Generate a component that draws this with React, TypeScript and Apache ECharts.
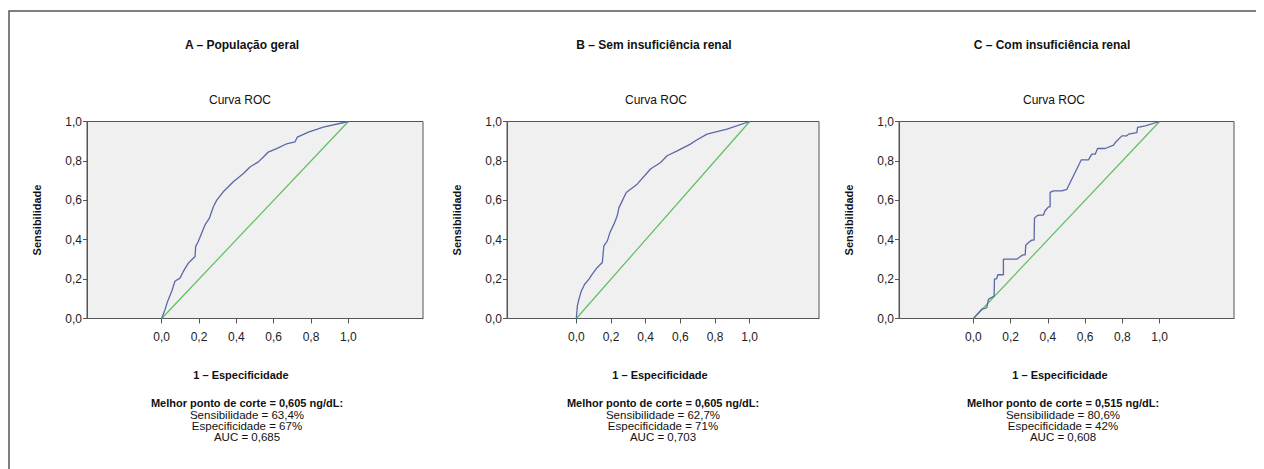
import React, { useEffect, useRef } from "react";
import * as echarts from "echarts";

const panelTitles = ["A – População geral", "B – Sem insuficiência renal", "C – Com insuficiência renal"];
const cutoffLines = [
  "Melhor ponto de corte = 0,605 ng/dL:",
  "Melhor ponto de corte = 0,605 ng/dL:",
  "Melhor ponto de corte = 0,515 ng/dL:",
];
const sensLines = ["Sensibilidade = 63,4%", "Sensibilidade = 62,7%", "Sensibilidade = 80,6%"];
const specLines = ["Especificidade = 67%", "Especificidade = 71%", "Especificidade = 42%"];
const aucLines = ["AUC = 0,685", "AUC = 0,703", "AUC = 0,608"];
const xTicks = [0, 0.2, 0.4, 0.6, 0.8, 1.0];

const rocA = [
  [0, 0], [0.018, 0.045], [0.03, 0.082], [0.054, 0.138], [0.071, 0.189], [0.098, 0.205],
  [0.116, 0.239], [0.143, 0.281], [0.161, 0.298], [0.179, 0.315], [0.182, 0.365], [0.196, 0.391],
  [0.214, 0.433], [0.232, 0.475], [0.255, 0.508], [0.277, 0.567], [0.295, 0.601], [0.33, 0.643],
  [0.384, 0.694], [0.438, 0.736], [0.473, 0.769], [0.518, 0.795], [0.545, 0.82], [0.571, 0.845],
  [0.616, 0.862], [0.67, 0.887], [0.714, 0.896], [0.727, 0.921], [0.786, 0.946], [0.866, 0.971], [1, 1],
];
const rocB = [
  [0, 0], [0.006, 0.064], [0.015, 0.098], [0.029, 0.14], [0.048, 0.174], [0.073, 0.2],
  [0.092, 0.225], [0.121, 0.259], [0.15, 0.284], [0.155, 0.335], [0.159, 0.369], [0.179, 0.394],
  [0.194, 0.437], [0.217, 0.479], [0.236, 0.521], [0.246, 0.563], [0.265, 0.597], [0.288, 0.64],
  [0.351, 0.682], [0.428, 0.759], [0.486, 0.792], [0.524, 0.826], [0.582, 0.851], [0.658, 0.885],
  [0.687, 0.902], [0.754, 0.936], [0.869, 0.961], [1, 1],
];
const rocC = [
  [0, 0], [0.045, 0.047], [0.063, 0.051], [0.072, 0.056], [0.081, 0.098], [0.099, 0.107],
  [0.111, 0.115], [0.113, 0.2], [0.125, 0.203], [0.131, 0.222], [0.161, 0.222], [0.161, 0.301],
  [0.233, 0.301], [0.251, 0.313], [0.265, 0.323], [0.278, 0.323], [0.281, 0.372], [0.296, 0.386],
  [0.314, 0.398], [0.326, 0.398], [0.328, 0.509], [0.341, 0.521], [0.353, 0.525], [0.376, 0.525],
  [0.385, 0.547], [0.403, 0.567], [0.412, 0.567], [0.412, 0.64], [0.43, 0.648], [0.475, 0.648],
  [0.502, 0.656], [0.579, 0.805], [0.618, 0.805], [0.636, 0.834], [0.654, 0.834], [0.667, 0.863],
  [0.708, 0.863], [0.753, 0.88], [0.762, 0.893], [0.798, 0.927], [0.824, 0.927], [0.833, 0.936],
  [0.878, 0.944], [0.882, 0.97], [0.923, 0.978], [1, 1],
];
const diagonal = [[0, 0], [1, 1]];
const rocData = [rocA, rocB, rocC];

const FONT = "'Liberation Sans Narrow', 'Liberation Sans', Arial, sans-serif";

export default function App() {
  const ref = useRef<HTMLDivElement>(null);
  useEffect(() => {
    if (!ref.current) return;
    const chart = echarts.init(ref.current, null, { renderer: "svg" });
    const grids = [
      { left: 79, top: 113.5, width: 336, height: 197 },
      { left: 499, top: 113.5, width: 312, height: 197 },
      { left: 891, top: 113.5, width: 335, height: 197 },
    ];
    const titleX = [234, 646, 1044];
    const curvaX = [232, 648, 1046];
    const xNameX = [233, 652, 1052];
    const statsX = [239, 655, 1055];
    const fmt = (v: number) => v.toFixed(1).replace(".", ",");
    const graphics: any[] = [
      {
        type: "rect",
        shape: { x: 1, y: 3, width: 1254, height: 500 },
        style: { fill: "none", stroke: "#555", lineWidth: 1.5 },
        silent: true,
      },
    ];
    const mkText = (x: number, y: number, text: string, bold: boolean, size: number) => ({
      type: "text",
      x,
      y,
      style: {
        text,
        fill: "#111",
        font: `${bold ? "bold " : ""}${size}px ${FONT}`,
        textAlign: "center",
        textVerticalAlign: "middle",
      },
    });
    for (let i = 0; i < 3; i++) {
      graphics.push(mkText(titleX[i], 37, panelTitles[i], true, 12));
      graphics.push(mkText(curvaX[i], 92, "Curva ROC", false, 12));
      graphics.push(mkText(xNameX[i], 367, "1 – Especificidade", true, 11));
      graphics.push(mkText(statsX[i], 395, cutoffLines[i], true, 11));
      graphics.push(mkText(statsX[i], 407, sensLines[i], false, 11.5));
      graphics.push(mkText(statsX[i], 418, specLines[i], false, 11.5));
      graphics.push(mkText(statsX[i], 429, aucLines[i], false, 11.5));
    }
    const axisColor = "#555";
    chart.setOption({
      animation: false,
      grid: grids.map((g) => ({
        ...g,
        show: true,
        backgroundColor: "#f0f0f0",
        borderColor: axisColor,
        borderWidth: 1,
        containLabel: false,
      })),
      xAxis: grids.map((_, i) => ({
        type: "value",
        gridIndex: i,
        min: -0.4,
        max: 1.4,
        interval: 0.2,
        splitLine: { show: false },
        axisLine: { show: true, onZero: false, lineStyle: { color: axisColor } },
        axisTick: { show: true, length: 5, customValues: xTicks, lineStyle: { color: axisColor } },
        axisLabel: {
          customValues: xTicks,
          margin: 12,
          formatter: fmt,
          color: "#222",
          fontSize: 12,
          fontFamily: FONT,
        },
      })),
      yAxis: grids.map((_, i) => ({
        type: "value",
        gridIndex: i,
        min: 0,
        max: 1,
        interval: 0.2,
        name: "Sensibilidade",
        nameLocation: "middle",
        nameGap: 45,
        nameTextStyle: { fontWeight: "bold", fontSize: 11, fontFamily: FONT, color: "#111" },
        splitLine: { show: false },
        axisLine: { show: true, onZero: false, lineStyle: { color: axisColor } },
        axisTick: { show: true, length: 4, lineStyle: { color: axisColor } },
        axisLabel: { formatter: fmt, margin: 5, color: "#222", fontSize: 12, fontFamily: FONT },
      })),
      series: [
        ...rocData.map((d, i) => ({
          type: "line",
          xAxisIndex: i,
          yAxisIndex: i,
          data: d,
          showSymbol: false,
          symbol: "none",
          lineStyle: { color: "#5c67a8", width: 1.3 },
          z: 3,
        })),
        ...rocData.map((_, i) => ({
          type: "line",
          xAxisIndex: i,
          yAxisIndex: i,
          data: diagonal,
          symbol: "none",
          lineStyle: { color: "#5cc05c", width: 1.2 },
          z: 2,
        })),
      ],
      graphic: graphics,
    });
    return () => chart.dispose();
  }, []);
  return <div ref={ref} style={{ width: 1256, height: 461 }} />;
}
